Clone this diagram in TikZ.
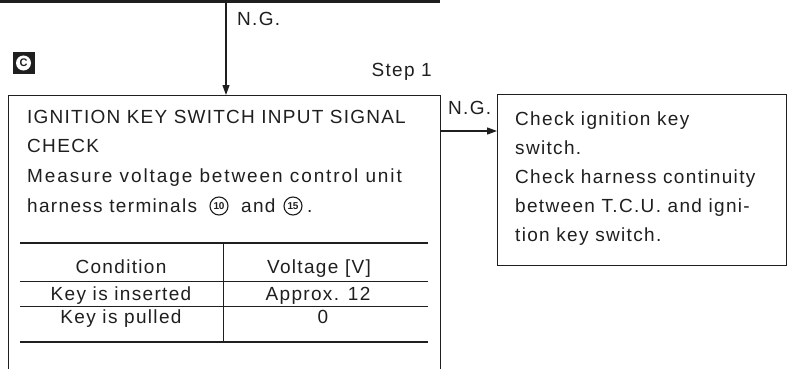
\documentclass[tikz,border=0pt]{standalone}
\usepackage{fontspec}
\setmainfont{Liberation Sans}[LetterSpace=7]
\newfontfamily\numfont{Liberation Sans}[LetterSpace=-4]
\usetikzlibrary{arrows.meta}
\definecolor{ink}{gray}{0.12}
\begin{document}
\begin{tikzpicture}[x=1pt,y=-1pt,
  txt/.style={inner sep=0pt, anchor=base west, text=ink, font=\fontsize{19}{23}\selectfont},
  ctxt/.style={txt, anchor=base},
  box/.style={draw=ink, line width=1.3pt, inner sep=0pt, anchor=north west},
  arr/.style={draw=ink, line width=1.2pt, -{Triangle[length=10pt,width=7pt]}},
  heavy/.style={draw=ink, line width=2.6pt},
  thinline/.style={draw=ink, line width=1pt},
  circnum/.style={draw=ink, line width=1.1pt, circle, minimum size=18pt, inner sep=0pt, text=ink, font=\numfont\bfseries\fontsize{10}{10}\selectfont}]
\clip (0,0) rectangle (789,369);
\fill[white] (0,0) rectangle (789,369);
% top box edge and arrow
\coordinate (tl) at (0,1.5);
\coordinate (tr) at (440,1.5);
\draw[heavy] (tl) -- (tr);
\node[box, minimum width=432pt, minimum height=320pt] (lbox) at (8,95) {};
\node[box, minimum width=289pt, minimum height=171pt] (rbox) at (497,94) {};
\coordinate (src) at (226,1.5);
\draw[arr] (src) -- (src |- lbox.north);
\coordinate (ngsrc) at (440,131);
\draw[arr] (ngsrc) -- (ngsrc -| rbox.west);
% labels
\node[txt] (ng1) at (237,25.5) {N.G.};
\node[txt, anchor=base east] (step) at (432,76) {Step 1};
\node[txt] (ng2) at (448,114.5) {N.G.};
% C icon
\node[fill=ink, minimum width=22pt, minimum height=22pt, inner sep=0pt] (cicon) at (23.5,63) {};
\fill[white] (cicon.center) circle (7.5pt);
\node[inner sep=0pt, text=ink, font=\bfseries\fontsize{11}{11}\selectfont] (cletter) at (cicon.center) {C};
% left box text
\node[txt, font=\addfontfeature{LetterSpace=6.5}\fontsize{19}{23}\selectfont] (l1) at (27,123.5) {IGNITION KEY SWITCH INPUT SIGNAL};
\node[txt] (l2) at (27,152.5) {CHECK};
\node[txt, font=\addfontfeature{LetterSpace=10}\fontsize{19}{23}\selectfont] (l3) at (27,182.5) {Measure voltage between control unit};
\node[txt] (l4) at (27,212.5) {harness terminals};
\node[circnum] (n10) at (219,206) {10};
\node[txt] (l4and) at (241,212.5) {and};
\node[circnum] (n15) at (293,206) {15};
\node[txt] (l4dot) at (307,212.5) {.};
% table
\coordinate (a1) at (20,243); \coordinate (a2) at (428,243);
\coordinate (b1) at (20,281); \coordinate (b2) at (428,281);
\coordinate (c1) at (20,306); \coordinate (c2) at (428,306);
\coordinate (d1) at (20,342); \coordinate (d2) at (428,342);
\coordinate (v1) at (223,243); \coordinate (v2) at (223,342);
\draw[heavy] (a1) -- (a2);
\draw[thinline] (b1) -- (b2);
\draw[thinline] (c1) -- (c2);
\draw[heavy] (d1) -- (d2);
\draw[thinline] (v1) -- (v2);
\node[ctxt] (h1) at (121,273.5) {Condition};
\node[ctxt] (h2) at (319,273.5) {Voltage [V]};
\node[ctxt] (r1a) at (121,300.5) {Key is inserted};
\node[ctxt] (r1b) at (318,300.5) {Approx. 12};
\node[ctxt] (r2a) at (121,323.5) {Key is pulled};
\node[ctxt] (r2b) at (323,323.5) {0};
% right box text
\node[txt] (m1) at (515,125.5) {Check ignition key};
\node[txt] (m2) at (515,154.5) {switch.};
\node[txt] (m3) at (515,183.5) {Check harness continuity};
\node[txt] (m4) at (515,212.5) {between T.C.U. and igni-};
\node[txt] (m5) at (515,241.5) {tion key switch.};
\end{tikzpicture}
\end{document}
